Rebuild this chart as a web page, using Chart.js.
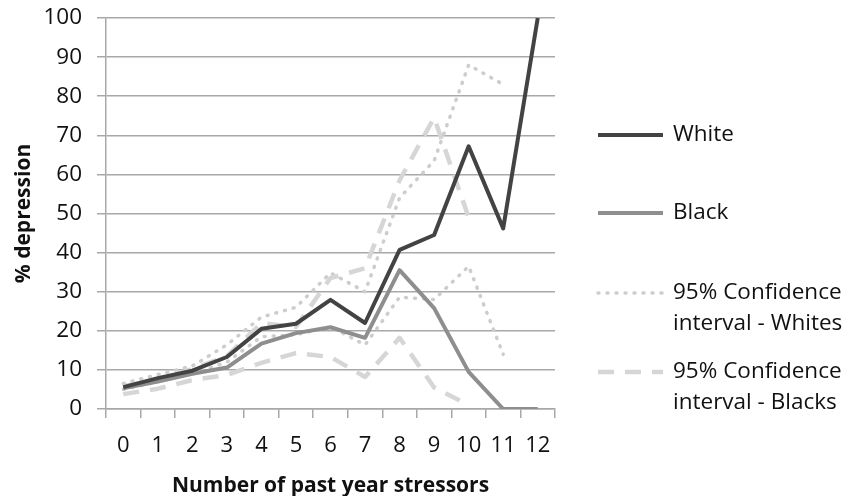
<!DOCTYPE html>
<html>
<head>
<meta charset="utf-8">
<script src="https://cdn.jsdelivr.net/npm/chart.js@4"></script>
<style>
  html, body { margin: 0; padding: 0; background: #fff; }
  #wrap { width: 850px; height: 496px; position: relative; }
</style>
</head>
<body>
<div id="wrap"><canvas id="c" width="850" height="496"></canvas></div>
<script>
const categories = ['0','1','2','3','4','5','6','7','8','9','10','11','12'];
const white = [5.6, 7.9, 9.8, 13.3, 20.5, 21.8, 27.9, 22.0, 40.7, 44.5, 67.2, 46.2, 100];
const black = [5.3, 7.0, 9.0, 10.6, 16.7, 19.4, 20.9, 18.2, 35.5, 25.8, 9.5, 0, 0];
const ciWhiteUpper = [6.5, 8.8, 11.0, 16.4, 23.5, 26.0, 34.8, 30.0, 54.0, 63.5, 88.0, 83.0, null];
const ciWhiteLower = [5.0, 7.0, 9.0, 12.0, 18.5, 19.0, 21.0, 16.4, 28.6, 28.0, 36.5, 14.0, null];
const ciBlackUpper = [5.8, 7.5, 10.2, 13.5, 22.0, 21.0, 33.5, 36.0, 58.5, 74.5, 49.0, null, null];
const ciBlackLower = [3.8, 5.2, 7.4, 8.7, 11.8, 14.3, 13.3, 8.2, 18.2, 5.5, 1.0, null, null];
const yTicks = [0,10,20,30,40,50,60,70,80,90,100];
const legendLabels = [['White'], ['Black'], ['95% Confidence', 'interval - Whites'], ['95% Confidence', 'interval - Blacks']];

const FONT = '"Open Sans", "DejaVu Sans", sans-serif';
const cWhite = '#434343', cBlack = '#8e8e8e', cDot = '#cdcdcd', cDash = '#d6d6d6';

const styleW = { borderColor: cWhite, borderWidth: 4, borderDash: [] };
const styleB = { borderColor: cBlack, borderWidth: 4, borderDash: [] };
const styleCW = { borderColor: cDot, borderWidth: 3.5, borderDash: [1, 8], borderCapStyle: 'round' };
const styleCB = { borderColor: cDash, borderWidth: 4.5, borderDash: [16, 11], borderCapStyle: 'butt' };

function ds(label, data, st, order) {
  return Object.assign({ label, data, pointRadius: 0, fill: false, tension: 0, spanGaps: false, order,
    borderJoinStyle: 'round' }, st);
}

const legendPlugin = {
  id: 'sideLegend',
  afterDraw(chart) {
    const ctx = chart.ctx;
    const items = [
      { st: styleW, y: 135, lines: legendLabels[0] },
      { st: styleB, y: 213, lines: legendLabels[1] },
      { st: styleCW, y: 293, lines: legendLabels[2] },
      { st: styleCB, y: 372, lines: legendLabels[3] }
    ];
    ctx.save();
    items.forEach(it => {
      ctx.beginPath();
      ctx.strokeStyle = it.st.borderColor;
      ctx.lineWidth = it.st.borderWidth;
      ctx.setLineDash(it.st.borderDash || []);
      ctx.lineCap = it.st.borderCapStyle || 'butt';
      ctx.moveTo(598, it.y);
      ctx.lineTo(663, it.y);
      ctx.stroke();
      ctx.setLineDash([]);
      ctx.fillStyle = '#111';
      ctx.font = '22.5px ' + FONT;
      ctx.textBaseline = 'middle';
      ctx.textAlign = 'left';
      it.lines.forEach((t, i) => ctx.fillText(t, 673, it.y + i * 31));
    });
    ctx.restore();
  }
};

new Chart(document.getElementById('c'), {
  type: 'line',
  data: {
    labels: categories,
    datasets: [
      ds('95% Confidence interval - Whites (upper)', ciWhiteUpper, styleCW, 4),
      ds('95% Confidence interval - Whites (lower)', ciWhiteLower, styleCW, 4),
      ds('95% Confidence interval - Blacks (upper)', ciBlackUpper, styleCB, 3),
      ds('95% Confidence interval - Blacks (lower)', ciBlackLower, styleCB, 3),
      ds('Black', black, styleB, 2),
      ds('White', white, styleW, 1)
    ]
  },
  options: {
    responsive: false,
    animation: false,
    events: [],
    layout: { padding: { top: 18, right: 295, left: 7, bottom: 0 } },
    plugins: { legend: { display: false }, tooltip: { enabled: false } },
    scales: {
      x: {
        offset: true,
        grid: { offset: true, drawOnChartArea: false, drawTicks: true, tickLength: 9, color: '#a8a8a8', lineWidth: 1.5 },
        border: { color: '#a8a8a8', width: 1.5 },
        ticks: { color: '#111', font: { family: FONT, size: 22 }, padding: 15, maxRotation: 0, autoSkip: false },
        title: { display: true, text: 'Number of past year stressors', color: '#111',
                 font: { family: FONT, size: 21, weight: 'bold', lineHeight: 0.6 }, padding: { top: 2 } },
        afterFit(s) { s.height = 87; s.paddingLeft = 0; s.paddingRight = 0; }
      },
      y: {
        min: 0, max: 100,
        afterBuildTicks(s) { s.ticks = yTicks.map(v => ({ value: v })); },
        grid: { color: '#a8a8a8', lineWidth: 1.5, drawTicks: true, tickLength: 9 },
        border: { color: '#a8a8a8', width: 1.5 },
        ticks: { color: '#111', font: { family: FONT, size: 22.5 }, padding: 15 },
        title: { display: true, text: '% depression', color: '#111',
                 font: { family: FONT, size: 21, weight: 'bold' }, padding: { bottom: 4 } },
        afterFit(s) { s.width = 99; s.paddingTop = 0; s.paddingBottom = 0; }
      }
    }
  },
  plugins: [legendPlugin]
});
</script>
</body>
</html>
